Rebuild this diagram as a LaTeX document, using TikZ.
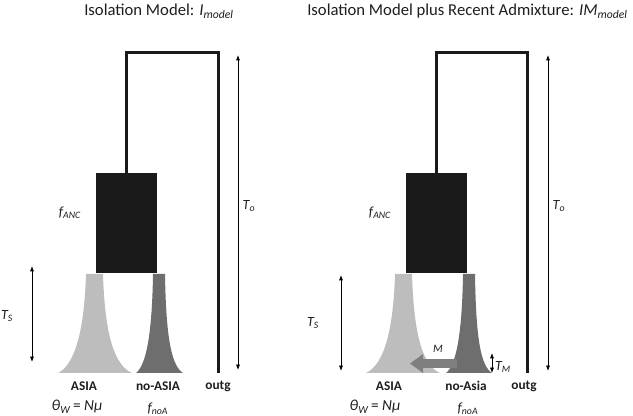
\documentclass[tikz,border=0pt]{standalone}
\usepackage{fontspec}
\setmainfont{Carlito}
\usepackage{xcolor}
\usetikzlibrary{arrows.meta, positioning}

\definecolor{asiagray}{HTML}{BDBDBD}
\definecolor{noasiagray}{HTML}{6E6E6E}
\definecolor{ancblack}{HTML}{1A1A1A}
\definecolor{admixgray}{HTML}{7F7F7F}
\definecolor{txt}{HTML}{1E1E1E}

\begin{document}
\begin{tikzpicture}[x=0.75pt, y=-0.75pt,
  title/.style={font=\fontsize{12.5}{14}\selectfont, text=txt, inner sep=0pt},
  pop/.style={font=\bfseries\fontsize{10}{12}\selectfont, text=txt, inner sep=0pt},
  lab/.style={font=\itshape\fontsize{10.5}{12}\selectfont, text=txt, inner sep=0pt},
  ancbox/.style={fill=ancblack, minimum width=45.75pt, minimum height=75pt, inner sep=0pt},
  branch/.style={line width=2.25pt, draw=ancblack},
  arr/.style={{Latex[length=4pt,width=3pt]}-{Latex[length=4pt,width=3pt]}, line width=0.5pt},
  admix/.style={admixgray, line width=6.75pt, -{Triangle[length=9.75pt,width=13.5pt]}},
]
  \useasboundingbox (0,0) rectangle (633,416);

  % isolation model
  \node[title] (ttlI) at (159,11) {Isolation Model: \textit{I}\textsubscript{\textit{model}}};
  \fill[asiagray] (86,274) .. controls (84,340) and (72,366) .. (58,373) -- (132,373)
    .. controls (116,366) and (105,340) .. (103,274) -- cycle;
  \fill[noasiagray] (153,274) .. controls (152,340) and (145,366) .. (136,373) -- (183,373)
    .. controls (172,366) and (166,340) .. (165,274) -- cycle;
  \node[ancbox] (ancI) at (126.5,223.5) {};
  \coordinate (outtopI) at (218,53);
  \coordinate (outbotI) at (218,373);
  \draw[branch] (ancI.north) |- (outtopI) -- (outbotI);
  \coordinate (totopI) at (238,55);
  \coordinate (tobotI) at (238,370);
  \draw[arr] (totopI) -- (tobotI);
  \coordinate (tstopI) at (32,266);
  \coordinate (tsbotI) at (32,362);
  \draw[arr] (tstopI) -- (tsbotI);
  \node[lab] (fancI) at (70,213) {f\textsubscript{ANC}};
  \node[lab] (toI) at (249,206) {T\textsubscript{o}};
  \node[lab] (tsI) at (7,316) {T\textsubscript{S}};
  \node[pop] (asiaI) at (84,386) {ASIA};
  \node[pop] (noasiaI) at (158,386) {no-ASIA};
  \node[pop] (outgI) at (218,386) {outg};
  \node[lab, font=\itshape\fontsize{11.5}{13}\selectfont] (thetaI) at (77,407) {θ\textsubscript{W}\,\upshape= \itshape Nμ};
  \node[lab] (fnoaI) at (158,409) {f\textsubscript{noA}};

  % isolation model plus recent admixture
  \begin{scope}[xshift=232.5pt]
    \node[title] (ttlIM) at (157.5,11) {Isolation Model plus Recent Admixture: \textit{IM}\textsubscript{\textit{model}}};
    \fill[asiagray] (85,274) .. controls (83,340) and (71,366) .. (56,373) -- (130,373)
      .. controls (114,366) and (104,340) .. (102,274) -- cycle;
    \fill[noasiagray] (153,274) .. controls (152,340) and (145,366) .. (136,373) -- (182,373)
      .. controls (171,366) and (166,340) .. (165,274) -- cycle;
    \node[ancbox] (ancIM) at (126.5,223.5) {};
    \coordinate (outtopIM) at (217,53);
    \coordinate (outbotIM) at (217,373);
    \draw[branch] (ancIM.north) |- (outtopIM) -- (outbotIM);
    \coordinate (totopIM) at (238,55);
    \coordinate (tobotIM) at (238,371);
    \draw[arr] (totopIM) -- (tobotIM);
    \coordinate (tstopIM) at (31,275);
    \coordinate (tsbotIM) at (31,371);
    \draw[arr] (tstopIM) -- (tsbotIM);
    \coordinate (mtail) at (147,363.5);
    \coordinate (mhead) at (100,363.5);
    \draw[admix] (mtail) -- (mhead);
    \coordinate (tmtop) at (182,353);
    \coordinate (tmbot) at (182,373);
    \draw[arr] (tmtop) -- (tmbot);
    \node[lab] (fancIM) at (70,213) {f\textsubscript{ANC}};
    \node[lab] (toIM) at (249,206) {T\textsubscript{o}};
    \node[lab] (tsIM) at (3,323) {T\textsubscript{S}};
    \node[lab, font=\itshape\fontsize{8.5}{10}\selectfont] (mlab) at (128,349) {M};
    \node[lab] (tmlab) at (193,367) {T\textsubscript{M}};
    \node[pop] (asiaIM) at (79,386) {ASIA};
    \node[pop] (noasiaIM) at (156,386) {no-Asia};
    \node[pop] (outgIM) at (214,386) {outg};
    \node[lab, font=\itshape\fontsize{11.5}{13}\selectfont] (thetaIM) at (65,407) {θ\textsubscript{W}\,\upshape= \itshape Nμ};
    \node[lab] (fnoaIM) at (158,409) {f\textsubscript{noA}};
  \end{scope}
\end{tikzpicture}
\end{document}
